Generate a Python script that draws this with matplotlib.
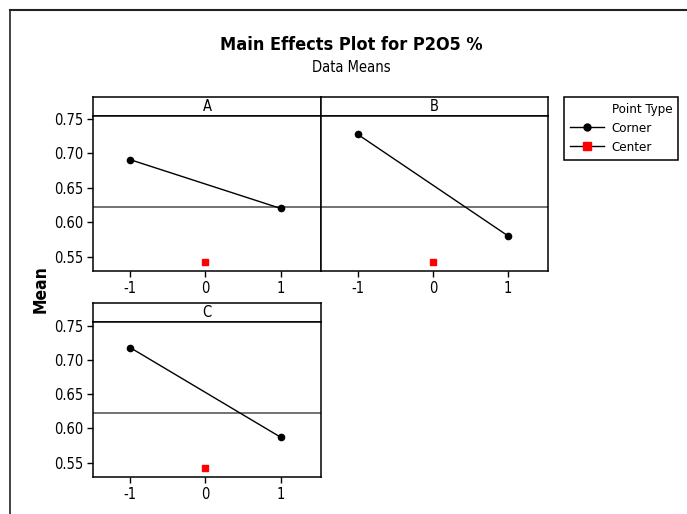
import matplotlib
matplotlib.use("Agg")
import matplotlib.pyplot as plt
from matplotlib.lines import Line2D

W, H = 687, 514
plt.rcParams["font.family"] = "DejaVu Sans"
plt.rcParams["font.stretch"] = "condensed"
plt.rcParams["axes.unicode_minus"] = False

# data
factors = ["A", "B", "C"]
levels = [-1, 1]
a_means = [0.691, 0.620]
b_means = [0.728, 0.580]
c_means = [0.718, 0.587]
center_level = 0
center_mean = 0.542
grand_mean = 0.622
yticks = [0.55, 0.60, 0.65, 0.70, 0.75]
xticks = [-1, 0, 1]


def px_rect(x0, y0, x1, y1):
    return [x0 / W, 1 - y1 / H, (x1 - x0) / W, (y1 - y0) / H]


fig = plt.figure(figsize=(W / 100, H / 100), dpi=100)

# outer frame (left + top only, like the cropped original)
fig.add_artist(Line2D([9.5 / W, 1], [1 - 9.5 / H] * 2, transform=fig.transFigure,
                      color="#222222", lw=1.5))
fig.add_artist(Line2D([9.5 / W] * 2, [0, 1 - 9.5 / H], transform=fig.transFigure,
                      color="#222222", lw=1.2))

# panel boxes: x0, strip top, x1, plot top, plot bottom (pixels)
panels = [
    (93.3, 97.3, 320.7, 115.7, 271.0),
    (320.7, 97.3, 548.0, 115.7, 271.0),
    (93.3, 302.7, 320.7, 322.3, 477.0),
]
means = [a_means, b_means, c_means]

for name, m, (x0, ys, x1, yp, yb) in zip(factors, means, panels):
    strip = fig.add_axes(px_rect(x0, ys, x1, yp))
    strip.set_xticks([])
    strip.set_yticks([])
    for sp in strip.spines.values():
        sp.set_linewidth(1.1)
    strip.text(0.5, 0.5, name, ha="center", va="center", fontsize=10.5,
               transform=strip.transAxes)

    ax = fig.add_axes(px_rect(x0, yp, x1, yb))
    ax.axhline(grand_mean, color="#5a5a5a", lw=1.2, zorder=1)
    ax.plot(levels, m, color="black", lw=1, marker="o", ms=4.5, zorder=3)
    ax.plot([center_level], [center_mean], "s", color="red", ms=4.3, zorder=3)
    ax.set_xlim(-1.49, 1.53)
    ax.set_ylim(0.529, 0.755)
    ax.set_xticks(xticks)
    ax.set_xticklabels([str(t) for t in xticks])
    ax.set_yticks(yticks)
    ax.set_yticklabels([f"{t:.2f}" for t in yticks])
    ax.tick_params(direction="out", length=4, width=1, labelsize=10.5, pad=3)
    for sp in ax.spines.values():
        sp.set_linewidth(1.1)
    if name == "B":
        ax.tick_params(left=False, labelleft=False)

fig.text(41 / W, 1 - 289 / H, "Mean", rotation=90, ha="center", va="center",
         fontsize=12.5, fontweight="bold")
fig.text(351 / W, 1 - 44.5 / H, "Main Effects Plot for P2O5 %", ha="center",
         va="center", fontsize=13, fontweight="bold")
fig.text(351 / W, 1 - 68 / H, "Data Means", ha="center", va="center", fontsize=10.5)

handles = [
    Line2D([], [], alpha=0),
    Line2D([], [], color="black", marker="o", ms=5, lw=1),
    Line2D([], [], color="black", marker="s", ms=5.5, lw=1, mfc="red", mec="red"),
]
leg = fig.legend(handles, ["Point Type", "Corner", "Center"],
                 loc="upper left", bbox_to_anchor=(564 / W, 1 - 97 / H),
                 borderaxespad=0, fontsize=9.5, frameon=True, fancybox=False,
                 edgecolor="black", framealpha=1, handlelength=2.6,
                 handletextpad=0.55, labelspacing=0.45, borderpad=0.45)
leg.get_frame().set_linewidth(1.1)

fig.savefig("out.png", dpi=100)
